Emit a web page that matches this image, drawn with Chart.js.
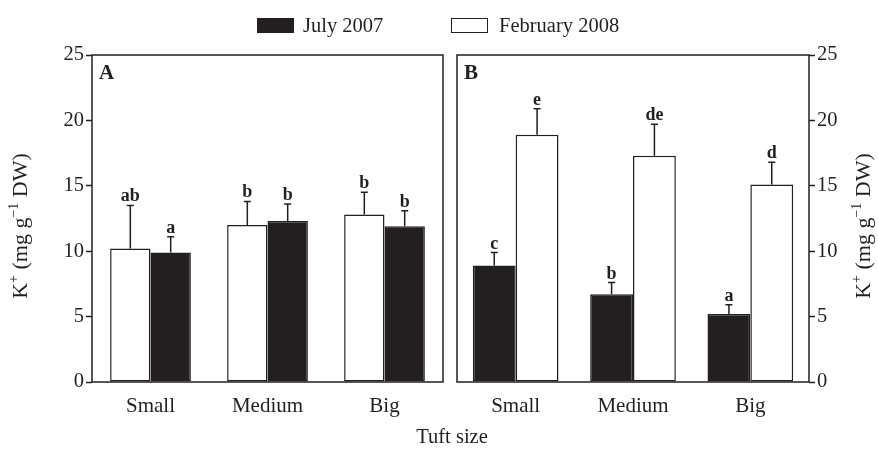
<!DOCTYPE html>
<html>
<head>
<meta charset="utf-8">
<script src="https://cdn.jsdelivr.net/npm/chart.js@4"></script>
<style>
    body { margin: 0; background: #fff; }
    #wrap { position: relative; width: 878px; height: 451px; font-family: "Liberation Serif", serif; color: #231f20; }
    #wrap canvas { position: absolute; left: 0; top: 0; }
    .swatch { position: absolute; top: 18px; width: 35px; height: 13px; border: 1.5px solid #231f20; }
    .lbl { position: absolute; top: 13px; font-size: 20.5px; line-height: 24px; }
    #xtitle { position: absolute; left: 0; width: 904px; top: 425px; text-align: center; font-size: 20.5px; }
</style>
</head>
<body>
<div id="wrap">
    <canvas id="chartA" width="878" height="451"></canvas>
    <canvas id="chartB" width="878" height="451"></canvas>
    <div class="swatch" style="left:257px; background:#231f20;"></div>
    <div class="lbl" style="left:303px;">July 2007</div>
    <div class="swatch" style="left:451px; background:#fff;"></div>
    <div class="lbl" style="left:499px;">February 2008</div>
    <div id="xtitle">Tuft size</div>
</div>
<script>
var categories = ["Small", "Medium", "Big"];

// panel A
var febA = [10.2, 12.0, 12.8];
var febErrA = [3.3, 1.8, 1.7];
var febLettersA = ["ab", "b", "b"];
var julyA = [9.9, 12.3, 11.9];
var julyErrA = [1.2, 1.3, 1.2];
var julyLettersA = ["a", "b", "b"];

// panel B
var julyB = [8.9, 6.7, 5.2];
var julyErrB = [1.0, 0.9, 0.7];
var julyLettersB = ["c", "b", "a"];
var febB = [18.9, 17.3, 15.1];
var febErrB = [2.0, 2.4, 1.7];
var febLettersB = ["e", "de", "d"];

var yMin = 0, yMax = 25, yStep = 5;

var ink = "#231f20";
var serif = "'Liberation Serif', serif";

// error bars + letters from dataset.err / dataset.letters
var errorBars = {
    id: "errorBars",
    afterDatasetsDraw: function (chart) {
        var ctx = chart.ctx;
        var yScale = chart.scales.y;
        ctx.save();
        ctx.strokeStyle = ink;
        ctx.fillStyle = ink;
        ctx.lineWidth = 1.5;
        ctx.font = "bold 18px " + serif;
        ctx.textAlign = "center";
        ctx.textBaseline = "alphabetic";
        chart.data.datasets.forEach(function (ds, i) {
            var meta = chart.getDatasetMeta(i);
            meta.data.forEach(function (bar, j) {
                var top = yScale.getPixelForValue(ds.data[j] + ds.err[j]);
                ctx.beginPath();
                ctx.moveTo(bar.x, bar.y);
                ctx.lineTo(bar.x, top);
                ctx.moveTo(bar.x - 3.5, top);
                ctx.lineTo(bar.x + 3.5, top);
                ctx.stroke();
                ctx.fillText(ds.letters[j], bar.x, top - 4);
            });
        });
        ctx.restore();
    }
};

// frame round the plot + panel letter + y title
var frame = {
    id: "frame",
    afterDraw: function (chart, args, opts) {
        var a = chart.chartArea;
        var ctx = chart.ctx;
        ctx.save();
        ctx.strokeStyle = ink;
        ctx.lineWidth = 1.5;
        ctx.strokeRect(a.left, a.top, a.right - a.left, a.bottom - a.top);
        ctx.fillStyle = ink;
        ctx.font = "bold 21px " + serif;
        ctx.textBaseline = "alphabetic";
        ctx.fillText(opts.panel, a.left + 7, a.top + 24);

        // rotated axis title with superscripts
        var parts = [["K", 0], ["+", 1], [" (mg g", 0], ["\u22121", 1], [" DW)", 0]];
        var big = "22px " + serif, small = "14px " + serif;
        var w = 0;
        parts.forEach(function (p) {
            ctx.font = p[1] ? small : big;
            w += ctx.measureText(p[0]).width;
        });
        ctx.translate(opts.titleX, 226);
        ctx.rotate(-Math.PI / 2);
        var x = -w / 2;
        parts.forEach(function (p) {
            ctx.font = p[1] ? small : big;
            ctx.fillText(p[0], x, p[1] ? -2 : 7);
            x += ctx.measureText(p[0]).width;
        });
        ctx.restore();
    }
};

function barSet(label, values, errs, letters, filled) {
    return {
        label: label,
        data: values,
        err: errs,
        letters: letters,
        backgroundColor: filled ? ink : "#ffffff",
        borderColor: ink,
        borderWidth: 1.5,
        borderSkipped: false
    };
}

function makeChart(id, datasets, opts) {
    return new Chart(document.getElementById(id).getContext("2d"), {
        type: "bar",
        data: { labels: categories, datasets: datasets },
        plugins: [errorBars, frame],
        options: {
            responsive: false,
            animation: false,
            layout: { padding: opts.padding },
            datasets: { bar: { categoryPercentage: opts.catPct, barPercentage: 1 } },
            plugins: {
                legend: { display: false },
                tooltip: { enabled: false },
                frame: { panel: opts.panel, titleX: opts.titleX }
            },
            scales: {
                x: {
                    grid: { display: false, drawTicks: false },
                    border: { display: false },
                    ticks: { color: ink, font: { family: serif, size: 21 }, padding: 12 },
                    afterFit: function (s) { s.height = 69; }
                },
                y: {
                    position: opts.yPos,
                    min: yMin,
                    max: yMax,
                    grid: { drawOnChartArea: false, drawTicks: true, tickLength: 6, color: ink, tickWidth: 1.5 },
                    border: { display: false },
                    ticks: { stepSize: yStep, color: ink, font: { family: serif, size: 20.5 }, padding: 2 },
                    afterFit: function (s) { s.width = opts.yWidth; }
                }
            }
        }
    });
}

makeChart("chartA", [
    barSet("February 2008", febA, febErrA, febLettersA, false),
    barSet("July 2007", julyA, julyErrA, julyLettersA, true)
], { padding: { left: 0, right: 435, top: 55, bottom: 0 }, catPct: 0.69, yPos: "left", yWidth: 92, panel: "A", titleX: 20 });

makeChart("chartB", [
    barSet("July 2007", julyB, julyErrB, julyLettersB, true),
    barSet("February 2008", febB, febErrB, febLettersB, false)
], { padding: { left: 457, right: 0, top: 55, bottom: 0 }, catPct: 0.73, yPos: "right", yWidth: 69, panel: "B", titleX: 863 });
</script>
</body>
</html>
